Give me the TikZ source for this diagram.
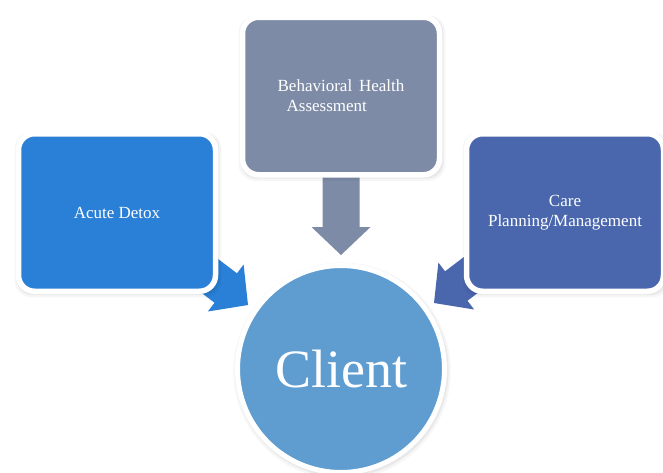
\documentclass[tikz,border=0pt]{standalone}
\usepackage{fontspec}
\setmainfont{Liberation Serif}
\usetikzlibrary{shadows}
\definecolor{detoxblue}{HTML}{2A7FD6}
\definecolor{assessgray}{HTML}{7D8BA7}
\definecolor{careblue}{HTML}{4A67AE}
\definecolor{clientblue}{HTML}{5F9DD1}

\begin{document}
\begin{tikzpicture}[x=1pt,y=-1pt,
  softshadow/.style={
    general shadow={fill=black, opacity=0.035, shadow xshift=1pt, shadow yshift=-2pt, shadow scale=1.05},
    general shadow={fill=black, opacity=0.05, shadow xshift=1pt, shadow yshift=-1.5pt, shadow scale=1.03},
    general shadow={fill=black, opacity=0.07, shadow xshift=0.5pt, shadow yshift=-1pt, shadow scale=1.015}},
  stagebox/.style={softshadow, rectangle, rounded corners=16pt, draw=white,
    line width=5.5pt, minimum width=197pt, minimum height=157.5pt, text=white,
    font=\fontsize{17}{20}\selectfont, align=center, inner sep=0pt},
  hub/.style={softshadow, circle, draw=white, line width=5pt, minimum size=207pt,
    text=white, font=\fontsize{54}{60}\selectfont, inner sep=0pt},
  blockarrow/.style={line width=0pt}
]
\useasboundingbox (0,0) rectangle (663,472);
\fill[white] (0,0) rectangle (663,472);

% arrow tips, just outside the client circle
\coordinate (tipL) at (248,305);
\coordinate (tipT) at (341,255);
\coordinate (tipR) at (434,303);

% block arrows (drawn first, their tails hide behind the boxes)
\fill[blockarrow, detoxblue, shift={(tipL)}, rotate=-37.3]
  (0,0) -- (-28,29.5) -- (-28,18.5) -- (-95,18.5) -- (-95,-18.5) -- (-28,-18.5) -- (-28,-29.5) -- cycle;
\fill[blockarrow, assessgray, shift={(tipT)}, rotate=-90]
  (0,0) -- (-28,29.5) -- (-28,18.5) -- (-85,18.5) -- (-85,-18.5) -- (-28,-18.5) -- (-28,-29.5) -- cycle;
\fill[blockarrow, careblue, shift={(tipR)}, rotate=217.3]
  (0,0) -- (-28,29.5) -- (-28,18.5) -- (-95,18.5) -- (-95,-18.5) -- (-28,-18.5) -- (-28,-29.5) -- cycle;

% stage boxes
\node[stagebox, fill=detoxblue] (detox) at (117,212.5) {Acute Detox};
\node[stagebox, fill=assessgray, align=left] (assess) at (341,96)
  {Behavioral\hspace{0.4em}Health\\\hspace{9pt}Assessment};
\node[stagebox, fill=careblue] (care) at (565,212.5) {Care\\Planning/Management};

% client hub
\node[hub, fill=clientblue] (client) at (341,369) {Client};
\end{tikzpicture}
\end{document}
